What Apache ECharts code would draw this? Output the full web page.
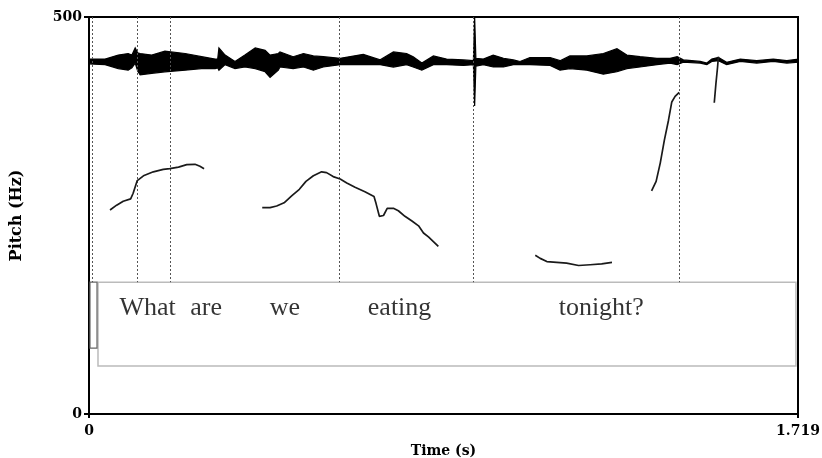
<!DOCTYPE html>
<html>
<head>
<meta charset="utf-8">
<script src="https://cdn.jsdelivr.net/npm/echarts@6/dist/echarts.min.js"></script>
<style>
  html, body { margin: 0; padding: 0; background: #fff; }
  #main { width: 822px; height: 458px; }
</style>
</head>
<body>
<div id="main"></div>
<script>
// pitch contour segments: [time (s), pitch (Hz)]
var pitch1 = [
  [0.051, 257], [0.067, 263], [0.083, 268], [0.101, 271], [0.107, 278], [0.117, 294],
  [0.132, 300], [0.156, 305], [0.180, 308], [0.196, 309], [0.217, 311], [0.237, 314],
  [0.257, 314.5], [0.269, 312], [0.279, 309]
];
var pitch2 = [
  [0.420, 260], [0.439, 260], [0.455, 262], [0.473, 266], [0.492, 275], [0.510, 283],
  [0.526, 293], [0.544, 300], [0.564, 305], [0.576, 304], [0.592, 299], [0.609, 296],
  [0.625, 291], [0.645, 285.5], [0.669, 280], [0.691, 274], [0.696, 265], [0.704, 249],
  [0.714, 250], [0.723, 259], [0.738, 259], [0.750, 256], [0.766, 249], [0.783, 243],
  [0.799, 237], [0.811, 228], [0.823, 223], [0.835, 217], [0.847, 211]
];
var pitch3 = [
  [1.082, 200], [1.094, 196], [1.110, 192], [1.134, 191], [1.158, 190], [1.187, 187],
  [1.215, 188], [1.243, 189], [1.268, 191]
];
var pitch4 = [
  [1.364, 281], [1.375, 293], [1.385, 316], [1.395, 345], [1.405, 370], [1.413, 393],
  [1.421, 400], [1.431, 405]
];
var pitch5 = [[1.516, 392], [1.520, 416], [1.524, 437], [1.526, 450]];

// waveform envelope drawn on the pitch scale
var waveTime = [0.000, 0.039, 0.071, 0.095, 0.104, 0.112, 0.118, 0.124, 0.152, 0.184, 0.233, 0.273,
  0.306, 0.312, 0.315, 0.330, 0.354, 0.378, 0.403, 0.427, 0.439, 0.459, 0.463, 0.495, 0.520, 0.544,
  0.568, 0.609, 0.665, 0.706, 0.738, 0.770, 0.786, 0.807, 0.835, 0.867, 0.908, 0.932, 0.935, 0.938,
  0.956, 0.980, 1.005, 1.029, 1.045, 1.069, 1.118, 1.142, 1.166, 1.207, 1.247, 1.280, 1.304, 1.336,
  1.377, 1.409, 1.426, 1.441, 1.482, 1.498, 1.510, 1.526, 1.546, 1.579, 1.619, 1.659, 1.692, 1.719];
var waveHi = [447, 447, 452, 454, 452, 461, 455, 454, 452, 457, 454, 450,
  447, 447, 461, 452, 444, 452, 461, 458, 452, 454, 456, 450, 454, 451,
  450, 448, 453, 446, 456, 454, 450, 442, 451, 447, 446, 445, 500, 448,
  447, 452, 448, 446, 444, 449, 449, 445, 451, 451, 454, 460, 452, 450,
  448, 448, 450, 446, 444, 442, 447, 449, 443, 447, 445, 447, 445, 447];
var waveLo = [441, 440, 435, 433, 436, 442, 432, 427, 429, 431, 433, 435,
  435, 436, 433, 440, 435, 437, 435, 431, 424, 433, 437, 435, 437, 433,
  437, 440, 440, 440, 437, 440, 437, 433, 440, 440, 439, 440, 388, 438,
  440, 437, 437, 440, 440, 440, 439, 433, 435, 433, 428, 431, 435, 437,
  440, 442, 440, 443, 442, 440, 444, 445, 440, 444, 442, 444, 442, 443];

// word boundaries (s)
var boundaries = [0.007, 0.116, 0.196, 0.606, 0.931, 1.431];

// words of the text tier
var words = ['What', 'are', 'we', 'eating', 'tonight?'];
var wordTime = [0.142, 0.284, 0.475, 0.753, 1.242];

var tierTop = 166, tierBottom = 60.5, tierLabelY = 133.5;

var chart = echarts.init(document.getElementById('main'));

function pitchSeries(data) {
  return {
    type: 'line',
    data: data,
    showSymbol: false,
    silent: true,
    lineStyle: { color: '#1a1a1a', width: 1.7 },
    z: 5
  };
}

var serif = 'DejaVu Serif';

var option = {
  animation: false,
  grid: {
    left: 89, right: 24, top: 17, bottom: 44,
    outerBoundsMode: 'none',
    containLabel: false,
    show: true, borderColor: '#000', borderWidth: 2
  },
  xAxis: {
    type: 'value',
    min: 0, max: 1.719, interval: 1.719,
    name: 'Time (s)',
    nameLocation: 'middle',
    nameGap: 30,
    nameTextStyle: { fontFamily: serif, fontWeight: 'bold', fontSize: 14, color: '#000' },
    axisLine: { lineStyle: { color: '#000', width: 2 } },
    axisTick: { show: true, length: 4, lineStyle: { color: '#000', width: 2 } },
    axisLabel: {
      fontFamily: serif, fontWeight: 'bold', fontSize: 14, color: '#000', margin: 10,
      formatter: function (v) { return v === 0 ? '0' : '1.719'; }
    },
    splitLine: { show: false }
  },
  yAxis: {
    type: 'value',
    min: 0, max: 500, interval: 500,
    name: 'Pitch (Hz)',
    nameLocation: 'middle',
    nameGap: 64,
    nameTextStyle: { fontFamily: serif, fontWeight: 'bold', fontSize: 16, color: '#000' },
    axisLine: { show: true, lineStyle: { color: '#000', width: 2 } },
    axisTick: { show: true, length: 5, lineStyle: { color: '#000', width: 2 } },
    axisLabel: { fontFamily: serif, fontWeight: 'bold', fontSize: 14, color: '#000', margin: 7 },
    splitLine: { show: false }
  },
  series: [
    {
      type: 'custom',
      silent: true,
      data: waveTime.map(function (t, i) { return [t, waveHi[i]]; }),
      renderItem: function (params, api) {
        if (params.dataIndex !== 0) return null;
        var top = waveTime.map(function (t, i) { return api.coord([t, waveHi[i]]); });
        var bot = waveTime.map(function (t, i) { return api.coord([t, waveLo[i]]); }).reverse();
        return {
          type: 'polygon',
          shape: { points: top.concat(bot) },
          style: { fill: '#000', stroke: '#000', lineWidth: 1.2 }
        };
      },
      z: 4
    },
    pitchSeries(pitch1),
    pitchSeries(pitch2),
    pitchSeries(pitch3),
    pitchSeries(pitch4),
    pitchSeries(pitch5),
    {
      type: 'scatter',
      silent: true,
      symbolSize: 0,
      data: wordTime.map(function (t) { return [t, tierLabelY]; }),
      label: {
        show: true,
        position: 'inside',
        formatter: function (p) { return words[p.dataIndex]; },
        fontFamily: 'Liberation Serif',
        fontSize: 26,
        color: '#000'
      },
      markLine: {
        silent: true,
        symbol: 'none',
        label: { show: false },
        lineStyle: { type: [2, 2], color: '#555', width: 1 },
        data: boundaries.map(function (t) {
          return [{ coord: [t, 500] }, { coord: [t, tierTop] }];
        })
      },
      markArea: {
        silent: true,
        data: [
          [{ coord: [0.0218, tierTop], itemStyle: { color: 'rgba(0,0,0,0)', borderColor: '#bbb', borderWidth: 1.5 } },
           { coord: [1.714, tierBottom] }],
          [{ coord: [0.0024, tierTop], itemStyle: { color: 'rgba(0,0,0,0)', borderColor: '#666', borderWidth: 1.2 } },
           { coord: [0.0194, 83] }]
        ]
      },
      z: 3
    }
  ]
};

chart.setOption(option);
</script>
</body>
</html>
